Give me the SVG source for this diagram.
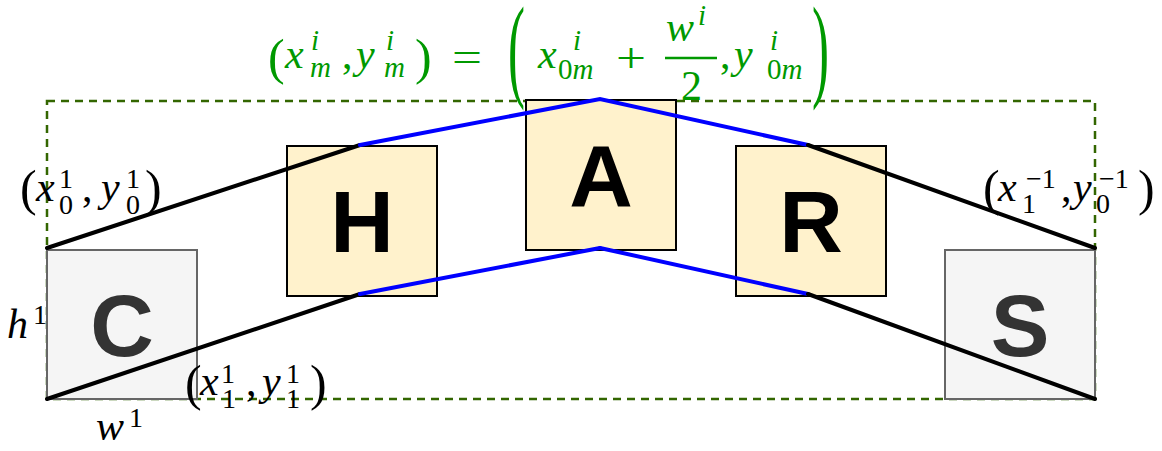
<svg xmlns="http://www.w3.org/2000/svg" width="1162" height="451" viewBox="0 0 1162 451">
<style>
.box{stroke-width:2}
.gray{fill:#f5f5f5;stroke:#666666}
.yel{fill:#fff2cc;stroke:#000000}
.lbl{font-family:"Liberation Sans",Arial,sans-serif;font-weight:bold;font-size:88px;text-anchor:middle}
.m{font-family:"Liberation Serif","Times New Roman",serif;fill:#000}
.g{fill:#009900}
.it{font-style:italic}
.blk{stroke:#000;stroke-width:4;fill:none;stroke-linecap:round}
.blu{stroke:#0000ff;stroke-width:4;fill:none;stroke-linecap:round}
</style>
<rect width="1162" height="451" fill="#ffffff"/>
<rect id="frame" x="47" y="101" width="1048" height="298" fill="none" stroke="#336600" stroke-width="2.5" stroke-dasharray="8,6"/>
<g id="node-C"><rect class="box gray" x="47" y="250" width="150" height="149"/><text class="lbl" x="122" y="356" fill="#333333">C</text></g>
<g id="node-H"><rect class="box yel" x="287" y="146" width="150" height="150"/><text class="lbl" x="362" y="252" fill="#000">H</text></g>
<g id="node-A"><rect class="box yel" x="526" y="100" width="150" height="150"/><text class="lbl" x="601" y="206" fill="#000">A</text></g>
<g id="node-R"><rect class="box yel" x="736" y="146" width="150" height="150"/><text class="lbl" x="811" y="252" fill="#000">R</text></g>
<g id="node-S"><rect class="box gray" x="945" y="250" width="150" height="149"/><text class="lbl" x="1020" y="356" fill="#333333">S</text></g>
<g id="connectors">
<line class="blk" x1="47" y1="248" x2="360" y2="145"/>
<polyline class="blu" points="360,145 600,99 808,145"/>
<line class="blk" x1="808" y1="145" x2="1095" y2="248"/>
<line class="blk" x1="47" y1="399" x2="360" y2="294"/>
<line class="blu" x1="360" y1="294" x2="600" y2="248"/>
<line class="blu" x1="600" y1="248" x2="808" y2="294" stroke="#3333ff"/>
<line class="blk" x1="808" y1="294" x2="1095" y2="399"/>
</g>
<g id="formula" class="m g">
<text font-size="50" x="268" y="74">(</text>
<text class="it" font-size="42" x="285" y="68">x</text>
<text class="it" font-size="29" x="311" y="50">i</text>
<text class="it" font-size="29" x="310" y="77">m</text>
<text font-size="42" x="342" y="68">,</text>
<text class="it" font-size="42" x="356" y="68">y</text>
<text class="it" font-size="29" x="386" y="50">i</text>
<text class="it" font-size="29" x="384" y="77">m</text>
<text font-size="50" x="415" y="74">)</text>
<text font-size="42" x="452" y="71" textLength="30" lengthAdjust="spacingAndGlyphs">=</text>
<text font-size="60" transform="translate(508,86) scale(0.85,1.9)">(</text>
<text class="it" font-size="42" x="538" y="68">x</text>
<text class="it" font-size="29" x="573" y="50">i</text>
<text font-size="29" x="558" y="79">0<tspan class="it">m</tspan></text>
<text font-size="42" x="616" y="72" textLength="30" lengthAdjust="spacingAndGlyphs">+</text>
<text class="it" font-size="42" x="666" y="41">w</text>
<text class="it" font-size="29" x="698" y="25">i</text>
<line x1="665" y1="58" x2="717" y2="58" stroke="#009900" stroke-width="2.5"/>
<text font-size="42" x="681" y="100">2</text>
<text font-size="42" x="720" y="68">,</text>
<text class="it" font-size="42" x="734" y="68">y</text>
<text class="it" font-size="29" x="770" y="50">i</text>
<text font-size="29" x="767" y="79">0<tspan class="it">m</tspan></text>
<text font-size="60" transform="translate(812,86) scale(0.85,1.9)">)</text>
</g>
<g id="label-x0y0" class="m">
<text font-size="50" x="20" y="205">(</text>
<text class="it" font-size="42" x="36" y="201">x</text>
<text font-size="28" x="59" y="188">1</text>
<text font-size="28" x="59" y="214">0</text>
<text font-size="42" x="82" y="201">,</text>
<text class="it" font-size="42" x="101" y="201">y</text>
<text font-size="28" x="126" y="188">1</text>
<text font-size="28" x="126" y="214">0</text>
<text font-size="50" x="145" y="205">)</text>
</g>
<g id="label-right" class="m">
<text font-size="50" x="983" y="205">(</text>
<text class="it" font-size="42" x="998" y="201">x</text>
<text font-size="28" x="1026" y="188">−1</text>
<text font-size="28" x="1022" y="213">1</text>
<text font-size="42" x="1061" y="201">,</text>
<text class="it" font-size="42" x="1073" y="201">y</text>
<text font-size="28" x="1099" y="188">−1</text>
<text font-size="28" x="1096" y="213">0</text>
<text font-size="50" x="1138" y="205">)</text>
</g>
<g id="label-x1y1" class="m">
<text font-size="50" x="185" y="400">(</text>
<text class="it" font-size="42" x="200" y="395">x</text>
<text font-size="28" x="221" y="383">1</text>
<text font-size="28" x="222" y="408">1</text>
<text font-size="42" x="246" y="395">,</text>
<text class="it" font-size="42" x="262" y="395">y</text>
<text font-size="28" x="286" y="383">1</text>
<text font-size="28" x="286" y="408">1</text>
<text font-size="50" x="310" y="400">)</text>
</g>
<g id="label-h" class="m">
<text class="it" font-size="42" x="7" y="338">h</text>
<text font-size="28" x="33" y="324">1</text>
</g>
<g id="label-w" class="m">
<text class="it" font-size="42" x="96" y="440">w</text>
<text font-size="28" x="129" y="427">1</text>
</g>
</svg>
